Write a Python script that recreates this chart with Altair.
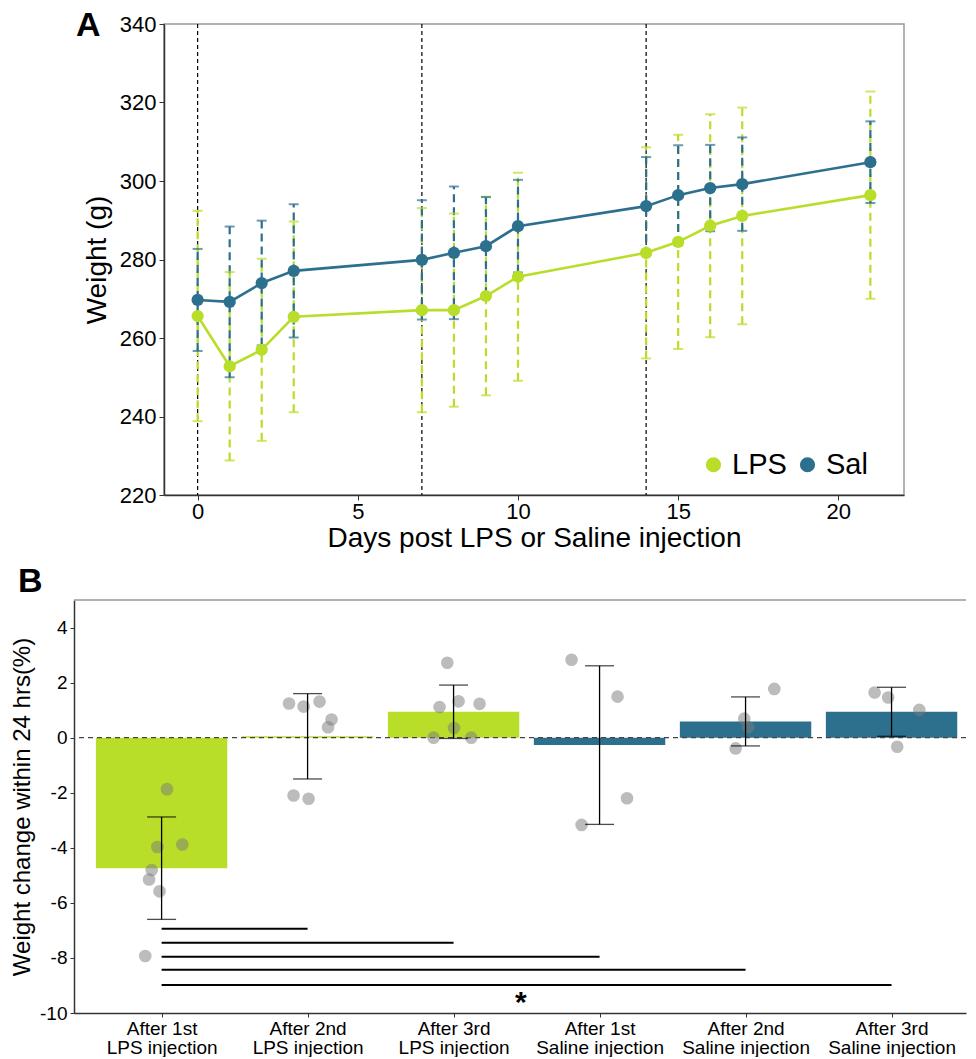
import json
import altair as alt
import pandas as pd

# ---------------- Panel A data ----------------
days = [0, 1, 2, 3, 7, 8, 9, 10, 14, 15, 16, 17, 21]
lps_mean = [265.6, 252.8, 257.0, 265.4, 267.1, 267.1, 270.7, 275.6, 281.7, 284.5, 288.6, 291.1, 296.4]
lps_err = [26.8, 24.0, 23.2, 24.3, 26.0, 24.6, 25.3, 26.5, 26.9, 27.3, 28.4, 27.6, 26.4]
sal_mean = [269.7, 269.2, 274.0, 277.1, 279.9, 281.7, 283.4, 288.5, 293.6, 296.4, 298.2, 299.2, 304.8]
sal_err = [13.0, 19.2, 15.9, 17.0, 15.2, 16.9, 12.5, 11.8, 12.5, 12.7, 11.0, 11.9, 10.4]
injection_days = [0, 7, 14]
series = ["LPS", "Sal"]
colors = ["#B8DE29", "#2D708E"]

# ---------------- Panel B data ----------------
groups = ["After 1st|LPS injection", "After 2nd|LPS injection", "After 3rd|LPS injection",
          "After 1st|Saline injection", "After 2nd|Saline injection", "After 3rd|Saline injection"]
group_type = ["LPS", "LPS", "LPS", "Sal", "Sal", "Sal"]
bar_mean = [-4.74, 0.05, 0.94, -0.27, 0.59, 0.94]
bar_err = [1.86, 1.55, 0.97, 2.88, 0.89, 0.89]
pt_group = [1] * 7 + [2] * 7 + [3] * 7 + [4] * 4 + [5] * 4 + [6] * 4
pt_x = [1.037, 0.971, 1.142, 0.932, 0.914, 0.986, 0.888,
        1.873, 1.973, 2.082, 2.164, 2.140, 1.904, 2.007,
        2.957, 2.904, 3.034, 3.178, 3.003, 2.863, 3.121,
        3.808, 4.123, 4.188, 3.877,
        5.197, 4.991, 5.018, 4.932,
        5.884, 5.977, 6.190, 6.039]
pt_y = [-1.87, -3.97, -3.88, -4.81, -5.15, -5.58, -7.93,
        1.24, 1.13, 1.31, 0.66, 0.38, -2.10, -2.22,
        2.72, 1.11, 1.32, 1.23, 0.35, 0.0, 0.0,
        2.83, 1.49, -2.20, -3.17,
        1.77, 0.69, 0.38, -0.39,
        1.64, 1.46, 1.01, -0.33]
sig_start = [1, 1, 1, 1, 1]
sig_end = [2, 3, 4, 5, 6]
sig_y = [-6.94, -7.45, -7.96, -8.43, -8.98]
star_x = [3.46]
star_y = [-9.62]

FONT = "Liberation Sans"

# ================= Panel A =================
dfA = pd.DataFrame({
    "day": days * 2,
    "mean": lps_mean + sal_mean,
    "err": lps_err + sal_err,
    "group": ["LPS"] * len(days) + ["Sal"] * len(days),
})
dfV = pd.DataFrame({"day": injection_days})

cscale = alt.Scale(domain=series, range=colors)
xA = alt.X("day:Q", scale=alt.Scale(domain=[-1.05, 22.05], nice=False, zero=False),
           axis=alt.Axis(values=[0, 5, 10, 15, 20], title="Days post LPS or Saline injection",
                         grid=False, labelFontSize=22, titleFontSize=28, tickSize=5,
                         labelPadding=1, titlePadding=2))


def yA(field):
    return alt.Y(field, scale=alt.Scale(domain=[220, 340], nice=False, zero=False),
                 axis=alt.Axis(values=[220, 240, 260, 280, 300, 320, 340], title="Weight (g)",
                               grid=False, labelFontSize=22, titleFontSize=28, tickSize=5,
                               labelPadding=3, titlePadding=8))


baseA = alt.Chart(dfA).transform_calculate(lo="datum.mean - datum.err", hi="datum.mean + datum.err")

legendA = alt.Legend(title=None, orient="none", legendX=625, legendY=426,
                     direction="horizontal", labelFontSize=29, symbolType="circle",
                     symbolSize=230, labelOffset=4, columnPadding=6,
                     symbolStrokeWidth=0, labelFont=FONT, labelColor="black")
colA = alt.Color("group:N", scale=cscale, legend=legendA)

# first coloured layer only carries the legend (drawn with zero size)
legend_layer = baseA.mark_circle(size=0, opacity=1).encode(x=xA, y=yA("mean:Q"), color=colA)
vlines = alt.Chart(dfV).mark_rule(color="black", strokeDash=[4, 3], strokeWidth=1.2).encode(x=xA)
err_rule = baseA.mark_rule(strokeDash=[8, 5], strokeWidth=2.2).encode(
    x=xA, y=yA("lo:Q"), y2="hi:Q", color=colA)
cap_lo = baseA.mark_tick(orient="horizontal", size=10, thickness=2).encode(
    x=xA, y=yA("lo:Q"), color=colA)
cap_hi = baseA.mark_tick(orient="horizontal", size=10, thickness=2).encode(
    x=xA, y=yA("hi:Q"), color=colA)
lines = baseA.mark_line(strokeWidth=2.6).encode(x=xA, y=yA("mean:Q"), color=colA)
points = baseA.mark_circle(size=150, opacity=1).encode(x=xA, y=yA("mean:Q"), color=colA)

labelA = alt.Chart(pd.DataFrame({"t": ["A"]})).mark_text(
    fontSize=34, fontWeight="bold", align="left", baseline="alphabetic", color="black"
).encode(x=alt.value(-88), y=alt.value(12), text="t:N")
spacerA = alt.Chart(pd.DataFrame({"t": ["A"]})).mark_rule(opacity=0).encode(
    x=alt.value(-20), x2=alt.value(-15), y=alt.value(-15))

panelA = alt.layer(legend_layer, vlines, err_rule, cap_lo, cap_hi, lines, points, labelA,
                   spacerA).properties(width=740, height=471)

# blank tiny view used to offset panel A horizontally inside the column
blank = alt.Chart(pd.DataFrame({"t": [0]})).mark_point(size=0, opacity=0).properties(
    width=1, height=1, view=alt.ViewBackground(stroke=None))
rowA = alt.hconcat(blank, panelA, spacing=0)

# ================= Panel B =================
dfB = pd.DataFrame({
    "pos": list(range(1, len(groups) + 1)),
    "mean": bar_mean,
    "err": bar_err,
    "group": group_type,
})
dfP = pd.DataFrame({"pos": pt_x, "val": pt_y, "g": pt_group})
dfS = pd.DataFrame({"x1": sig_start, "x2": sig_end, "y": sig_y})
dfStar = pd.DataFrame({"x": star_x, "y": star_y, "t": ["*"]})
dfZero = pd.DataFrame({"y": [0.0]})

label_expr = "split(" + json.dumps(groups) + "[round(datum.value) - 1], '|')"


def xB(field):
    return alt.X(field, scale=alt.Scale(domain=[0.4, 6.51], nice=False, zero=False),
                 axis=alt.Axis(values=[1, 2, 3, 4, 5, 6], labelExpr=label_expr, title=None,
                               grid=False, labelFontSize=19, tickSize=4, labelPadding=2,
                               labelLineHeight=19))


def yB(field):
    return alt.Y(field, scale=alt.Scale(domain=[-10, 5], nice=False, zero=False),
                 axis=alt.Axis(values=[-10, -8, -6, -4, -2, 0, 2, 4], labelExpr="'' + datum.value",
                               title="Weight change within 24 hrs(%)", grid=False,
                               labelFontSize=19, titleFontSize=24, tickSize=4,
                               labelPadding=3, titlePadding=5))


baseB = alt.Chart(dfB).transform_calculate(
    xl="datum.pos - 0.45", xr="datum.pos + 0.45", zero="0",
    lo="datum.mean - datum.err", hi="datum.mean + datum.err")

bars = baseB.mark_bar(opacity=1).encode(
    x=xB("xl:Q"), x2="xr:Q", y=yB("mean:Q"), y2="zero:Q",
    color=alt.Color("group:N", scale=cscale, legend=None))
zero_line = alt.Chart(dfZero).mark_rule(color="#444444", strokeDash=[5, 4], strokeWidth=1.3).encode(
    y=yB("y:Q"))
ptsB = alt.Chart(dfP).mark_circle(size=160, color="#7a7a7a", opacity=0.5).encode(
    x=xB("pos:Q"), y=yB("val:Q"))
eb_rule = baseB.mark_rule(color="black", strokeWidth=1.3).encode(
    x=xB("pos:Q"), y=yB("lo:Q"), y2="hi:Q")
eb_lo = baseB.mark_tick(orient="horizontal", size=29, thickness=1.3, color="black").encode(
    x=xB("pos:Q"), y=yB("lo:Q"))
eb_hi = baseB.mark_tick(orient="horizontal", size=29, thickness=1.3, color="black").encode(
    x=xB("pos:Q"), y=yB("hi:Q"))
sig = alt.Chart(dfS).mark_rule(color="black", strokeWidth=2).encode(
    x=xB("x1:Q"), x2="x2:Q", y=yB("y:Q"))
star = alt.Chart(dfStar).mark_text(fontSize=30, fontWeight="bold", color="black",
                                    baseline="middle", align="center").encode(
    x=xB("x:Q"), y=yB("y:Q"), text="t:N")
top_border = alt.Chart(dfZero).mark_rule(color="#999999", strokeWidth=1.5).encode(
    y=alt.value(0), x=alt.value(0), x2=alt.value(892))
labelB = alt.Chart(pd.DataFrame({"t": ["B"]})).mark_text(
    fontSize=34, fontWeight="bold", align="left", baseline="alphabetic", color="black"
).encode(x=alt.value(-56), y=alt.value(-8), text="t:N")
spacerB = alt.Chart(pd.DataFrame({"t": ["B"]})).mark_rule(opacity=0).encode(
    x=alt.value(-66), x2=alt.value(-60), y=alt.value(0))

panelB = alt.layer(bars, zero_line, ptsB, eb_rule, eb_lo, eb_hi, sig, star, top_border,
                   labelB, spacerB).properties(
    width=892, height=413, view=alt.ViewBackground(stroke=None))

chart = alt.vconcat(rowA, panelB, spacing=12).resolve_scale(
    color="independent"
).resolve_legend(color="independent").properties(padding=0).configure(
    font=FONT,
).configure_view(
    stroke="#999999", strokeWidth=1.5
).configure_axis(
    domainColor="#333333", tickColor="#333333", labelColor="black", titleColor="black",
    titleFontWeight="normal", labelFont=FONT, titleFont=FONT, domainWidth=1.5
)

chart.save("out.html", embed_options={"renderer": "svg", "actions": False})
